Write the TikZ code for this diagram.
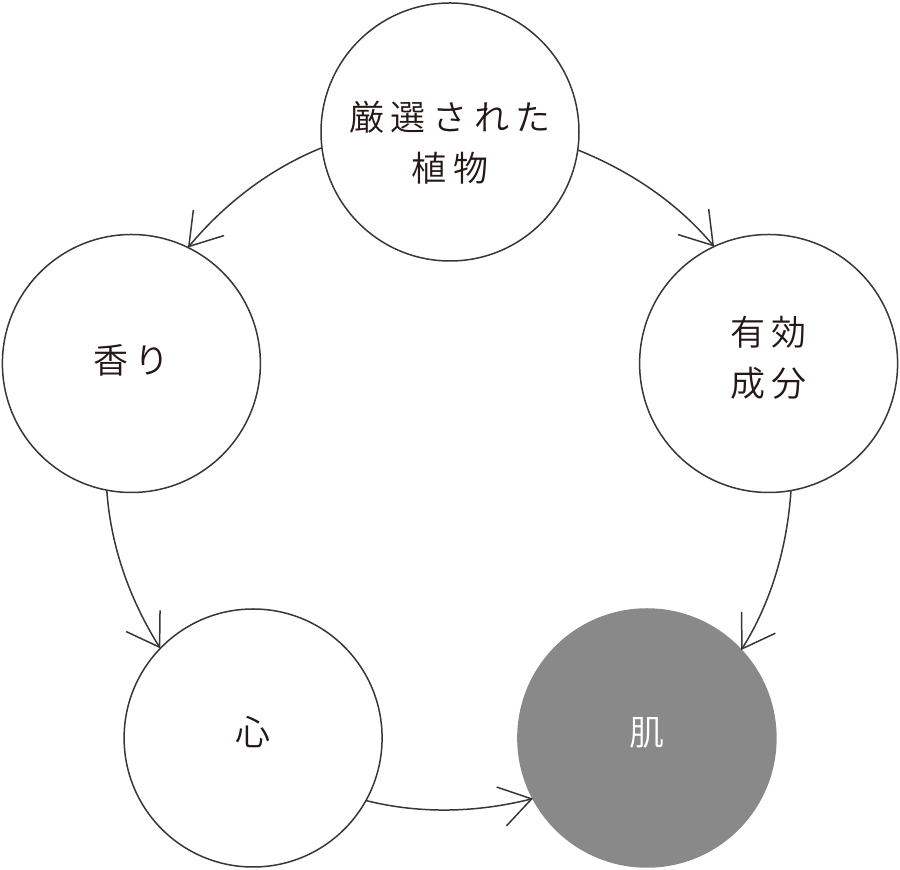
\documentclass[tikz,border=0pt]{standalone}
\usepackage{fontspec}
\usepackage{tikz}
\usetikzlibrary{arrows.meta}
\newfontfamily\jp{Noto Sans CJK JP DemiLight}[LetterSpace=19]
\definecolor{Cln}{RGB}{55,55,55}
\definecolor{Ctx}{RGB}{35,24,21}
\definecolor{Cg}{RGB}{137,137,137}
\tikzset{
  R/.style n args={1}{
    circle, draw=Cln, fill=#1, line width=1.5pt,
    minimum size=258pt, inner sep=0pt, outer sep=0pt,
    align=center, text=Ctx, font=\jp\fontsize{35}{51}\selectfont
  },
  a/.style={-{Straight Barb[length=31pt,width=40pt]},
    line width=1.5pt, color=Cln, looseness=0.87}
}

\begin{document}
\begin{tikzpicture}[x=1pt, y=1pt]
\useasboundingbox (0,0) rectangle (900,870);

% ─────────────────────────────────────────────────────────────────────────────
%  CIRCLES  (pentagon round (450,403), r = 335)
% ─────────────────────────────────────────────────────────────────────────────
\node[R={white}] (plant)  at (450.0, 738.0)
  {\rule{0pt}{50pt}厳選された\\植物};
\node[R={white}] (aroma)  at (131.4, 506.5) {香り\rule[-10pt]{0pt}{1pt}};
\node[R={white}] (active) at (768.6, 506.5)
  {有効\\成分\rule[-14pt]{0pt}{1pt}};
\node[R={white}] (heart)  at (253.1, 132.0) {心\rule[-14pt]{0pt}{1pt}};
\node[R={Cg}, draw=Cg, text=white] (skin) at (646.9, 132.0)
  {肌\rule[-14pt]{0pt}{1pt}};

% ─────────────────────────────────────────────────────────────────────────────
%  ARROWS
% ─────────────────────────────────────────────────────────────────────────────

% counter-clockwise side
\draw[a] (plant.187.4) to[out=201.9, in=50.1]  (aroma.64.6);
\draw[a] (aroma.259.4) to[out=273.9, in=122.1] (heart.136.6);
\draw[a] (heart.331.4) to[out=345.9, in=194.1] (skin.208.6);

% clockwise side
\draw[a] (plant.352.6)  to[out=338.1, in=129.9] (active.115.4);
\draw[a] (active.280.6) to[out=266.1, in=57.9]  (skin.43.4);

\end{tikzpicture}
\end{document}
